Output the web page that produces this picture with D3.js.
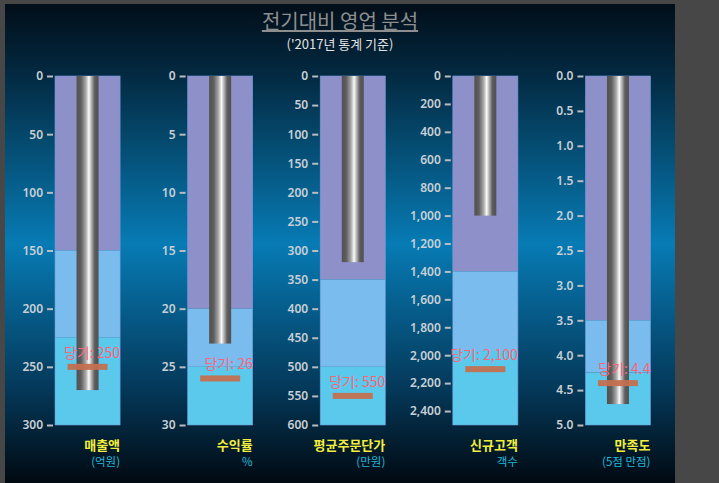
<!DOCTYPE html>
<html>
<head>
<meta charset="utf-8">
<title>전기대비 영업 분석</title>
<script src="https://cdn.jsdelivr.net/npm/d3@7"></script>
<style>
    body { margin: 0; background: #474747; }
    svg { display: block; }
    text { font-family: "Noto Sans CJK KR", "Noto Sans", sans-serif; }
</style>
</head>
<body>
<svg id="chart" width="719" height="483"></svg>

<script>
    // data
    var categories = ["매출액", "수익률", "평균주문단가", "신규고객", "만족도"]
    var units = ["(억원)", "%", "(만원)", "객수", "(5점 만점)"]
    var maxValues = [300, 30, 600, 2500, 5]
    var tickSteps = [50, 5, 50, 200, 0.5]
    var tickFormats = [",", ",", ",", ",", ".1f"]
    var band1 = [150, 20, 350, 1400, 3.5]      // purple
    var band2 = [225, 25, 500, 1970, 4.25]     // light blue, rest is cyan
    var actual = [270, 23, 320, 1000, 4.7]
    var target = [250, 26, 550, 2100, 4.4]

    var svg = d3.select("#chart")
    var defs = svg.append("defs")

    // background gradient
    var bg = defs.append("linearGradient").attr("id", "bg")
        .attr("x1", 0).attr("y1", 0).attr("x2", 0).attr("y2", 1)
    bg.selectAll("stop")
        .data([[0, "#020e19"], [0.15, "#032a42"], [0.5, "#077bb4"], [0.8, "#04395a"], [1, "#010911"]])
        .enter().append("stop")
        .attr("offset", d => d[0]).attr("stop-color", d => d[1])

    // metal cylinder gradient
    var cyl = defs.append("linearGradient").attr("id", "cyl")
        .attr("x1", 0).attr("y1", 0).attr("x2", 1).attr("y2", 0)
    cyl.selectAll("stop")
        .data([[0, "#515151"], [0.2, "#5d5d5d"], [0.42, "#a8a8a8"], [0.56, "#fafafa"], [0.68, "#b0b0b0"], [0.82, "#5d5d5d"], [1, "#505050"]])
        .enter().append("stop")
        .attr("offset", d => d[0]).attr("stop-color", d => d[1])

    svg.append("rect")
        .attr("x", 5).attr("y", 4)
        .attr("width", 670).attr("height", 479)
        .attr("fill", "url(#bg)")

    svg.append("text")
        .attr("x", 340).attr("y", 29)
        .attr("text-anchor", "middle")
        .style("font-size", "20px")
        .style("text-decoration", "underline")
        .attr("fill", "#8e8e8e")
        .text("전기대비 영업 분석")
    svg.append("text")
        .attr("x", 340).attr("y", 49)
        .attr("text-anchor", "middle")
        .style("font-size", "13px")
        .attr("fill", "#e2e2e2")
        .text("('2017년 통계 기준)")

    var x = d3.scaleBand()
        .domain(categories)
        .range([55, 650.5])
        .paddingInner(0.509)
        .paddingOuter(0)

    var yTop = 76, yBottom = 425
    var cylW = 22, markW = 40, markH = 6

    categories.forEach(function(c, i) {
        var y = d3.scaleLinear().domain([0, maxValues[i]]).range([yTop, yBottom])
        var x0 = x(c), w = x.bandwidth(), cx = x0 + w / 2
        var g = svg.append("g")

        // qualitative bands
        var bands = [[0, band1[i], "#8e90ca"], [band1[i], band2[i], "#7bbcee"], [band2[i], maxValues[i], "#5bc9eb"]]
        g.selectAll("rect.band")
            .data(bands)
            .enter().append("rect")
            .attr("class", "band")
            .attr("x", x0).attr("width", w)
            .attr("y", d => y(d[0]))
            .attr("height", d => y(d[1]) - y(d[0]))
            .attr("fill", d => d[2])
        g.append("rect")
            .attr("x", x0).attr("width", w)
            .attr("y", y(0)).attr("height", y(maxValues[i]) - y(0))
            .attr("fill", "none")
            .attr("stroke", "#6f9ad8").attr("stroke-width", 0.6)

        // axis
        var ticks = d3.range(0, maxValues[i] + 1e-9, tickSteps[i])
        var axis = d3.axisLeft(y)
            .tickValues(ticks)
            .tickFormat(d3.format(tickFormats[i]))
            .tickSize(6)
            .tickPadding(4)
        var ag = g.append("g")
            .attr("transform", "translate(" + (x0 - 2) + ",0)")
            .call(axis)
        ag.select(".domain").remove()
        ag.selectAll("line").attr("stroke", "#b9bcc0").attr("stroke-width", 2)
        ag.selectAll("text")
            .attr("fill", "#c9cfd4")
            .style("font-size", "12px")
            .style("font-family", "'Noto Sans', sans-serif")
            .style("font-weight", "600")

        // actual value cylinder
        g.append("rect")
            .attr("x", cx - cylW / 2).attr("width", cylW)
            .attr("y", y(0))
            .attr("height", y(actual[i]) - y(0))
            .attr("fill", "url(#cyl)")

        // target marker
        g.append("rect")
            .attr("x", cx - markW / 2).attr("width", markW)
            .attr("y", y(target[i]) - markH / 2).attr("height", markH)
            .attr("fill", "#c4704e")
            .attr("opacity", 0.95)
        g.append("text")
            .attr("x", x0 + w).attr("y", y(target[i]) - 9)
            .attr("text-anchor", "end")
            .style("font-size", "14px")
            .attr("fill", "#fb6479")
            .text("당기: " + d3.format(tickFormats[i] == ".1f" ? ".1f" : ",")(target[i]))

        // category labels
        g.append("text")
            .attr("x", x0 + w).attr("y", 450)
            .attr("text-anchor", "end")
            .style("font-size", "13px")
            .style("font-weight", "bold")
            .attr("fill", "#f3ee3d")
            .text(c)
        g.append("text")
            .attr("x", x0 + w).attr("y", 466)
            .attr("text-anchor", "end")
            .style("font-size", "11.5px")
            .attr("fill", "#22b9da")
            .text(units[i])
    })
</script>
</body>
</html>
